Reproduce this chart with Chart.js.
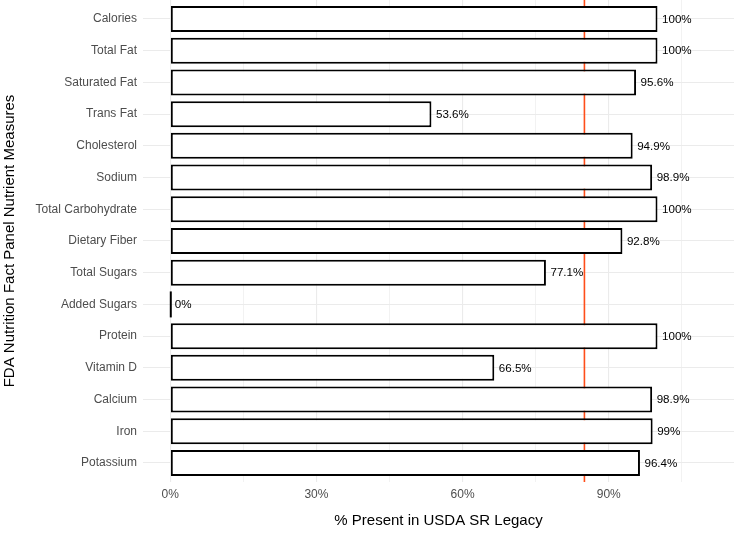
<!DOCTYPE html>
<html>
<head>
<meta charset="utf-8">
<script src="https://cdn.jsdelivr.net/npm/chart.js@4.4.1/dist/chart.umd.min.js"></script>
<style>
  html, body { margin: 0; padding: 0; background: #ffffff; }
  #grafica { display: block; }
</style>
</head>
<body>
<canvas id="grafica" width="734" height="534"></canvas>
<script>
const nutrientes = ['Calories', 'Total Fat', 'Saturated Fat', 'Trans Fat', 'Cholesterol', 'Sodium',
    'Total Carbohydrate', 'Dietary Fiber', 'Total Sugars', 'Added Sugars', 'Protein', 'Vitamin D',
    'Calcium', 'Iron', 'Potassium'];
const porcentajes = [100, 100, 95.6, 53.6, 94.9, 98.9, 100, 92.8, 77.1, 0, 100, 66.5, 98.9, 99, 96.4];
const ticksX = [0, 15, 30, 45, 60, 75, 90, 105];
const referencia = 85;

const fuente = '"Liberation Sans", Arial, sans-serif';

// linea de referencia naranja, detras de las barras
const lineaReferencia = {
    id: 'lineaReferencia',
    beforeDatasetsDraw(chart) {
        const ctx = chart.ctx;
        const area = chart.chartArea;
        const x = chart.scales.x.getPixelForValue(referencia);
        ctx.save();
        ctx.strokeStyle = '#FF4E1A';
        ctx.lineWidth = 1.6;
        ctx.beginPath();
        ctx.moveTo(x, area.top);
        ctx.lineTo(x, area.bottom);
        ctx.stroke();
        ctx.restore();
    }
};

// etiquetas de porcentaje y barras de valor cero
const etiquetasBarras = {
    id: 'etiquetasBarras',
    afterDatasetsDraw(chart) {
        const ctx = chart.ctx;
        const meta = chart.getDatasetMeta(0);
        ctx.save();
        ctx.font = '11.6px ' + fuente;
        ctx.fillStyle = '#000000';
        ctx.textBaseline = 'middle';
        ctx.textAlign = 'left';
        meta.data.forEach((barra, i) => {
            const valor = porcentajes[i];
            if (valor === 0) {
                ctx.strokeStyle = '#000000';
                ctx.lineWidth = 2;
                ctx.beginPath();
                ctx.moveTo(barra.x + 0.5, barra.y - barra.height / 2);
                ctx.lineTo(barra.x + 0.5, barra.y + barra.height / 2);
                ctx.stroke();
            }
            ctx.fillText(valor + '%', barra.x + 4.5, barra.y + 0.5);
        });
        ctx.restore();
    }
};

const ctx = document.getElementById('grafica').getContext('2d');

new Chart(ctx, {
    type: 'bar',
    data: {
        datasets: [{
            data: porcentajes.map((v, i) => ({ x: v, y: i })),
            backgroundColor: '#ffffff',
            borderColor: '#000000',
            borderWidth: 2,
            borderSkipped: false,
            categoryPercentage: 1,
            barPercentage: 0.82
        }]
    },
    options: {
        indexAxis: 'y',
        responsive: false,
        animation: false,
        layout: { padding: 0 },
        plugins: {
            legend: { display: false },
            tooltip: { enabled: false }
        },
        scales: {
            x: {
                type: 'linear',
                min: -5.6,
                max: 115.7,
                afterBuildTicks: (scale) => { scale.ticks = ticksX.map(v => ({ value: v })); },
                afterFit: (scale) => {
                    scale.height = 52;
                    scale.paddingLeft = 0;
                    scale.paddingRight = 0;
                },
                border: { display: false },
                grid: {
                    drawTicks: false,
                    color: (c) => (c.tick && c.tick.value % 30 === 0) ? '#EBEBEB' : '#F2F2F2',
                    lineWidth: (c) => (c.tick && c.tick.value % 30 === 0) ? 1.1 : 1
                },
                ticks: {
                    padding: 5,
                    color: '#4D4D4D',
                    font: { family: fuente, size: 12 },
                    maxRotation: 0,
                    autoSkip: false,
                    callback: (v) => v % 30 === 0 ? v + '%' : ''
                },
                title: {
                    display: true,
                    text: '% Present in USDA SR Legacy',
                    color: '#000000',
                    font: { family: fuente, size: 15 },
                    padding: { top: 0, bottom: 4 }
                }
            },
            y: {
                type: 'linear',
                reverse: true,
                offset: false,
                min: -0.6,
                max: nutrientes.length - 1 + 0.6,
                afterBuildTicks: (scale) => { scale.ticks = nutrientes.map((_, i) => ({ value: i })); },
                afterFit: (scale) => {
                    scale.width = 143;
                    scale.paddingTop = 0;
                    scale.paddingBottom = 0;
                },
                border: { display: false },
                grid: {
                    offset: false,
                    drawTicks: false,
                    color: '#EBEBEB',
                    lineWidth: 1.1
                },
                ticks: {
                    padding: 6,
                    color: '#4D4D4D',
                    font: { family: fuente, size: 12 },
                    autoSkip: false,
                    callback: (v) => nutrientes[v]
                },
                title: {
                    display: true,
                    text: 'FDA Nutrition Fact Panel Nutrient Measures',
                    color: '#000000',
                    font: { family: fuente, size: 15 },
                    padding: { top: 1, bottom: 0 }
                }
            }
        }
    },
    plugins: [lineaReferencia, etiquetasBarras]
});
</script>
</body>
</html>
